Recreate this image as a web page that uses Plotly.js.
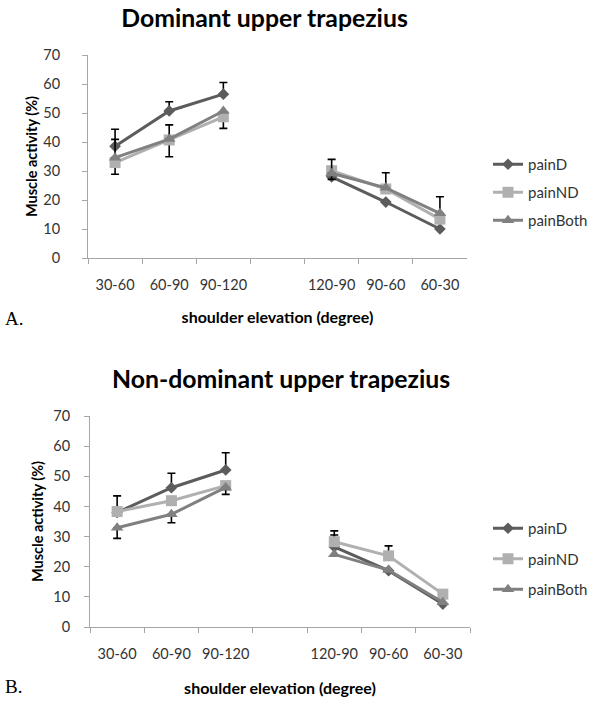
<!DOCTYPE html>
<html>
<head>
<meta charset="utf-8">
<script src="https://cdn.plot.ly/plotly-3.0.1.min.js"></script>
<style>html,body{margin:0;padding:0;background:#fff;}#chart{width:600px;height:706px;}</style>
</head>
<body>
<div id="chart"></div>
<script>
// Categories (blank slot separates the raising and lowering phases)
var categories = ['30-60', '60-90', '90-120', ' ', '120-90', '90-60', '60-30'];
var seriesNames = ['painD', 'painND', 'painBoth'];

// A. Dominant upper trapezius
var domPainD = [38.5, 50.7, 56.5, null, 28.0, 19.3, 10.0];
var domPainDPlus = [5.9, 3.2, 4.0, null, null, null, null];
var domPainND = [32.9, 40.7, 48.7, null, 30.1, 23.8, 13.4];
var domPainNDMinus = [4.0, 5.8, 4.0, null, 3.0, null, null];
var domPainBoth = [34.6, 41.0, 50.7, null, 29.2, 24.2, 15.4];
var domPainBothPlus = [6.3, 4.9, null, null, 4.8, 5.2, 5.7];

// B. Non-dominant upper trapezius
var ndPainD = [38.0, 46.2, 52.1, null, 26.6, 18.7, 7.6];
var ndPainDPlus = [5.5, 4.8, 5.7, null, 3.9, null, null];
var ndPainND = [38.3, 41.9, 46.9, null, 28.3, 23.6, 10.9];
var ndPainNDPlus = [null, null, null, null, 3.6, 3.3, null];
var ndPainBoth = [32.9, 37.4, 46.3, null, 24.1, 18.9, 8.2];
var ndPainBothMinus = [3.5, 2.8, 2.3, null, null, null, null];

var yTicks = [0, 10, 20, 30, 40, 50, 60, 70];

var colors = ['#5c5c5c', '#b0b0b0', '#808080'];
var symbols = ['diamond', 'square', 'triangle-up'];
var sizes = [9, 11, 11];
var FONT = 'Lato, "Open Sans", sans-serif';

function nan(a) { return a.map(function (v) { return v == null ? NaN : v; }); }

function mk(i, y, errPlus, errMinus, xa, ya, legend, group) {
  var err = {type: 'data', symmetric: false, color: '#000', thickness: 1.6, width: 4, visible: true};
  var blank = categories.map(function () { return NaN; });
  err.array = errPlus ? nan(errPlus) : blank;
  err.arrayminus = errMinus ? nan(errMinus) : blank;
  return {
    type: 'scatter', mode: 'lines+markers', name: seriesNames[i],
    x: categories, y: y, xaxis: xa, yaxis: ya, legend: legend, legendgroup: group,
    connectgaps: false,
    line: {color: colors[i], width: 3},
    marker: {color: colors[i], symbol: symbols[i], size: sizes[i]},
    error_y: err
  };
}

var data = [
  mk(0, domPainD, domPainDPlus, null, 'x', 'y', 'legend', 'a'),
  mk(1, domPainND, null, domPainNDMinus, 'x', 'y', 'legend', 'b'),
  mk(2, domPainBoth, domPainBothPlus, null, 'x', 'y', 'legend', 'c'),
  mk(0, ndPainD, ndPainDPlus, null, 'x2', 'y2', 'legend2', 'd'),
  mk(1, ndPainND, ndPainNDPlus, null, 'x2', 'y2', 'legend2', 'e'),
  mk(2, ndPainBoth, null, ndPainBothMinus, 'x2', 'y2', 'legend2', 'f')
];

function xAxis(dom, anchor, standoff, titleStandoff) {
  return {
    domain: dom, anchor: anchor, type: 'category', categoryorder: 'array', categoryarray: categories,
    range: [-0.5, 6.5], tickson: 'boundaries', ticks: 'outside', ticklen: 5, tickwidth: 1, tickcolor: '#a6a6a6',
    tickangle: 0,
    showline: true, linecolor: '#a6a6a6', linewidth: 1, showgrid: false, zeroline: false,
    tickfont: {family: FONT, size: 14.5, color: '#333'}, ticklabelstandoff: standoff,
    title: {text: 'shoulder elevation (degree)', font: {family: FONT, size: 16, color: '#000', weight: 'bold'}, standoff: titleStandoff},
    fixedrange: true
  };
}
function yAxis(dom, anchor, standoff, titleStandoff) {
  return {
    domain: dom, anchor: anchor, range: [0, 70], tickvals: yTicks, ticktext: yTicks.map(String),
    ticks: 'outside', ticklen: 5, tickwidth: 1, tickcolor: '#a6a6a6',
    showline: true, linecolor: '#a6a6a6', linewidth: 1, showgrid: false, zeroline: false,
    tickfont: {family: FONT, size: 14.5, color: '#333'}, ticklabelstandoff: standoff,
    title: {text: 'Muscle activity (%)', font: {family: FONT, size: 14.5, color: '#000', weight: 'bold'}, standoff: titleStandoff},
    fixedrange: true
  };
}

var H = 706, W = 600;
var layout = {
  width: W, height: H, margin: {l: 0, r: 0, t: 0, b: 0},
  paper_bgcolor: '#fff', plot_bgcolor: '#fff',
  font: {family: FONT, color: '#333'},
  title: {text: 'Dominant upper trapezius', x: 264.5 / W, xanchor: 'center', y: 1 - 18.5 / H, yanchor: 'middle',
          font: {family: FONT, size: 24.8, color: '#000', weight: 'bold'}},
  xaxis: xAxis([88 / W, 467 / W], 'y', 14, 19),
  yaxis: yAxis([1 - 258 / H, 1 - 55 / H], 'x', 19, 2),
  xaxis2: xAxis([90 / W, 470 / W], 'y2', 14, 21),
  yaxis2: yAxis([1 - 627 / H, 1 - 416 / H], 'x2', 11, 6),
  showlegend: true,
  legend: {x: 488 / W, xanchor: 'left', y: 1 - 148 / H, yanchor: 'top', font: {family: FONT, size: 15, color: '#333'},
           bgcolor: 'rgba(0,0,0,0)', borderwidth: 0, itemwidth: 30, tracegroupgap: 5.5},
  legend2: {x: 488 / W, xanchor: 'left', y: 1 - 512 / H, yanchor: 'top', font: {family: FONT, size: 15, color: '#333'},
            bgcolor: 'rgba(0,0,0,0)', borderwidth: 0, itemwidth: 30, tracegroupgap: 8},
  annotations: [
    {text: 'Non-dominant upper trapezius', xref: 'paper', yref: 'paper', x: 281 / W, xanchor: 'center',
     y: 1 - 378 / H, yanchor: 'middle', showarrow: false, font: {family: FONT, size: 24.8, color: '#000', weight: 'bold'}},
    {text: 'A.', xref: 'paper', yref: 'paper', x: 3 / W, xanchor: 'left', y: 1 - 318.5 / H, yanchor: 'middle',
     showarrow: false, font: {family: '"Liberation Serif", "Times New Roman", serif', size: 19, color: '#000'}},
    {text: 'B.', xref: 'paper', yref: 'paper', x: 3 / W, xanchor: 'left', y: 1 - 686 / H, yanchor: 'middle',
     showarrow: false, font: {family: '"Liberation Serif", "Times New Roman", serif', size: 19, color: '#000'}}
  ]
};

Plotly.newPlot('chart', data, layout, {displayModeBar: false, staticPlot: true});
</script>
</body>
</html>
